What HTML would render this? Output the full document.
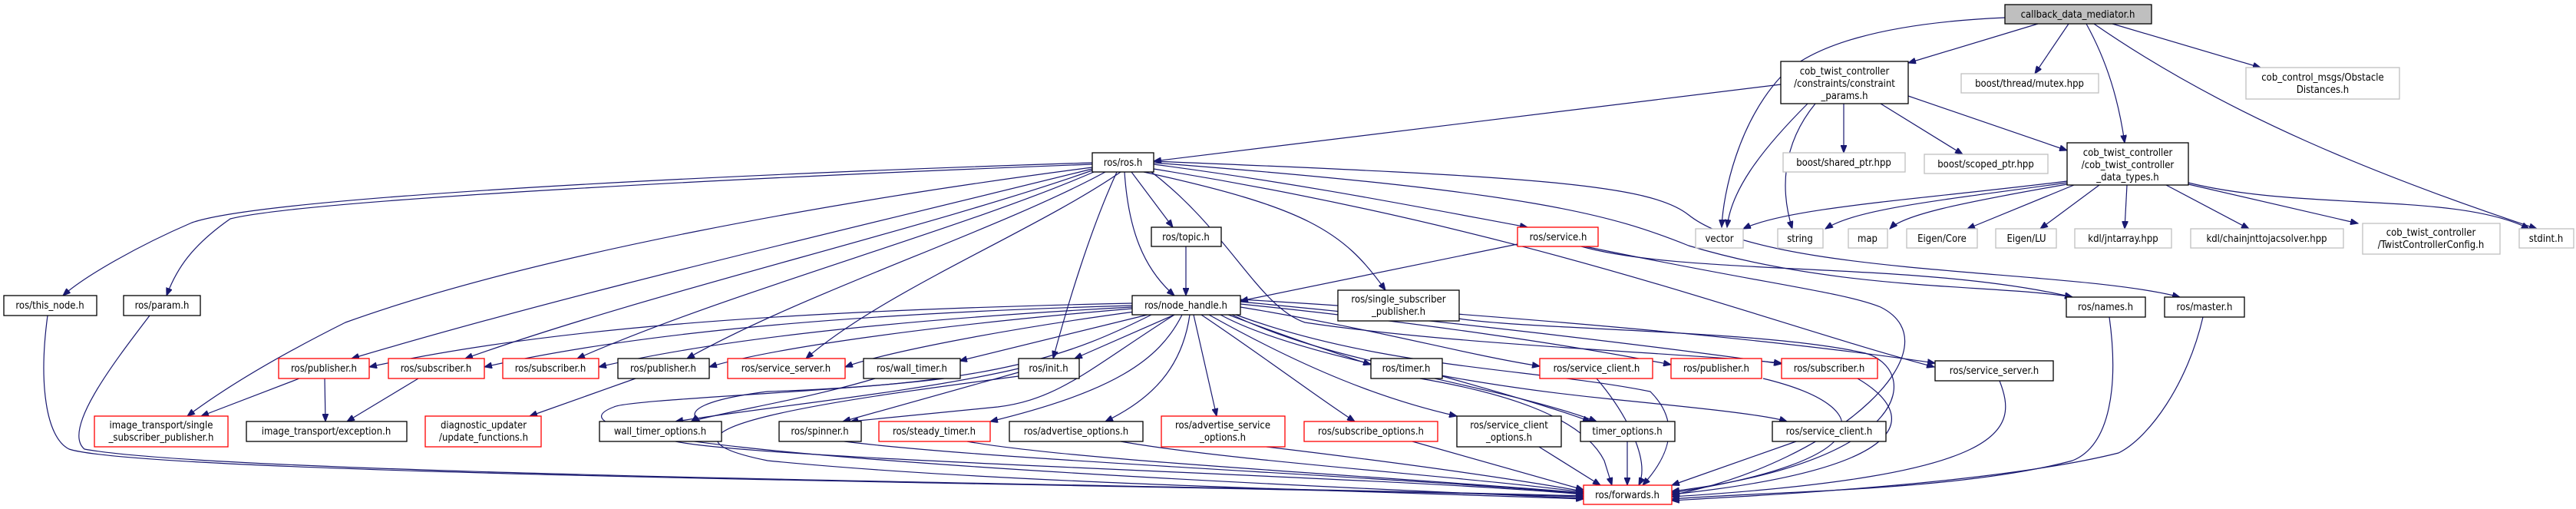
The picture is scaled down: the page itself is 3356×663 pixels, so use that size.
<!DOCTYPE html>
<html><head><meta charset="utf-8"><style>
html,body{margin:0;padding:0;background:#fff;}
svg{display:block;}
text{font-family:"DejaVu Sans Condensed","Liberation Sans",sans-serif;font-size:13px;fill:#000;text-anchor:middle;}
.e{fill:none;stroke:#191970;stroke-width:1.2;marker-end:url(#a);}
.b{fill:#fff;stroke:#000;stroke-width:1.3;}
.r{fill:#fff;stroke:#ff0000;stroke-width:1.3;}
.g{fill:#fff;stroke:#bfbfbf;stroke-width:1.3;}
</style></head><body>
<svg width="3356" height="663" viewBox="0 0 3356 663" xmlns="http://www.w3.org/2000/svg">
<defs><marker id="a" markerUnits="userSpaceOnUse" markerWidth="11" markerHeight="8" refX="10" refY="4" orient="auto"><path d="M0,0 L10,4 L0,8 z" fill="#191970" stroke="#191970"/></marker></defs>

<!-- callback edges -->
<path class="e" d="M2655,31 L2486,82"/>
<path class="e" d="M2695,31 L2651,96"/>
<path class="e" d="M2718,31 C2745,80 2760,130 2768,186"/>
<path class="e" d="M2728,31 C2900,150 3100,230 3305,298"/>
<path class="e" d="M2752,31 L2945,88"/>
<path class="e" d="M2612,23 C2450,30 2360,60 2320,100 C2265,160 2245,250 2243,296"/>
<!-- constraint_params edges -->
<path class="e" d="M2320,110 L1503,210"/>
<path class="e" d="M2355,135 C2290,200 2255,250 2250,296"/>
<path class="e" d="M2365,135 C2320,190 2320,250 2335,298"/>
<path class="e" d="M2402,135 L2402,199"/>
<path class="e" d="M2450,135 L2557,201"/>
<path class="e" d="M2486,125 L2693,196"/>
<!-- data_types edges -->
<path class="e" d="M2693,236 C2500,260 2330,270 2271,298"/>
<path class="e" d="M2693,238 C2520,262 2420,272 2378,298"/>
<path class="e" d="M2693,240 C2550,265 2480,280 2462,298"/>
<path class="e" d="M2702,241 L2563,298"/>
<path class="e" d="M2735,241 L2658,298"/>
<path class="e" d="M2771,241 L2768,298"/>
<path class="e" d="M2822,241 L2930,298"/>
<path class="e" d="M2851,240 L3072,291"/>
<path class="e" d="M2851,238 C3000,275 3200,250 3295,298"/>
<!-- ros.h edges -->
<path class="e" d="M1423,212 C1000,225 350,255 250,290 C180,320 110,360 82,385"/>
<path class="e" d="M1423,214 C1000,230 400,260 300,285 C250,320 230,350 217,385"/>
<path class="e" d="M1423,218 C1100,260 700,330 450,420 C370,460 300,500 244,542"/>
<path class="e" d="M1423,220 C1100,300 750,380 458,467"/>
<path class="e" d="M1423,222 C1200,300 850,380 606,467"/>
<path class="e" d="M1425,224 C1250,300 950,380 752,467"/>
<path class="e" d="M1440,224 C1300,300 1050,380 895,467"/>
<path class="e" d="M1460,224 C1350,300 1150,380 1050,467"/>
<path class="e" d="M1455,224 C1420,300 1390,400 1372,467"/>
<path class="e" d="M1474,224 L1528,296"/>
<path class="e" d="M1465,224 C1470,300 1490,350 1530,385"/>
<path class="e" d="M1490,224 C1700,270 1750,300 1805,378"/>
<path class="e" d="M1503,214 C1700,240 1850,270 1990,296"/>
<path class="e" d="M1503,212 C2000,250 2100,280 2200,320 C2400,380 2600,370 2700,387"/>
<path class="e" d="M1503,210 C2000,230 2150,240 2200,280 C2300,360 2700,350 2840,387"/>
<path class="e" d="M1503,220 C2000,300 2300,420 2520,478"/>
<path class="e" d="M1500,224 C1600,300 1640,400 1700,420 C1900,450 2200,460 2321,473"/>
<!-- topic/service -->
<path class="e" d="M1545,321 L1545,385"/>
<path class="e" d="M1977,318 L1616,392"/>
<path class="e" d="M2060,321 C2200,360 2500,340 2700,387"/>
<path class="e" d="M2065,321 C2300,370 2400,380 2450,400 C2550,450 2400,600 2178,645"/>
<!-- node_handle edges -->
<path class="e" d="M1475,395 C1000,405 700,430 481,478"/>
<path class="e" d="M1475,398 C1050,410 800,440 631,478"/>
<path class="e" d="M1475,400 C1100,420 900,450 780,478"/>
<path class="e" d="M1475,402 C1200,425 1000,455 924,478"/>
<path class="e" d="M1478,406 C1300,430 1150,460 1101,478"/>
<path class="e" d="M1495,410 L1250,470"/>
<path class="e" d="M1530,410 L1400,467"/>
<path class="e" d="M1500,410 C1400,460 1300,500 1000,510 C920,520 890,535 912,549"/>
<path class="e" d="M1530,410 C1420,480 1380,520 1300,530 C1200,540 1150,545 1108,549"/>
<path class="e" d="M1540,410 C1510,470 1450,510 1290,549"/>
<path class="e" d="M1550,410 C1540,480 1500,520 1440,549"/>
<path class="e" d="M1555,410 L1585,542"/>
<path class="e" d="M1565,410 C1640,460 1720,520 1765,549"/>
<path class="e" d="M1575,410 C1700,480 1800,520 1898,542"/>
<path class="e" d="M1600,410 C1680,440 1740,460 1786,475"/>
<path class="e" d="M1616,400 C1800,430 1900,460 2006,477"/>
<path class="e" d="M1616,396 C1850,420 2050,450 2177,475"/>
<path class="e" d="M1616,393 C1900,420 2150,450 2321,474"/>
<path class="e" d="M1616,390 C1950,410 2300,440 2521,473"/>
<path class="e" d="M1590,410 C1700,470 1950,500 2080,549"/>
<path class="e" d="M1605,410 C1750,480 2000,510 2100,520 C2200,530 2300,540 2328,549"/>
<path class="e" d="M1610,410 C1800,480 2000,480 2150,510 C2200,560 2160,610 2140,632"/>
<!-- second level -->
<path class="e" d="M390,493 L262,542"/>
<path class="e" d="M423,493 L424,549"/>
<path class="e" d="M545,493 L452,549"/>
<path class="e" d="M828,493 L690,542"/>
<path class="e" d="M1140,493 C1050,520 950,535 900,549"/>
<path class="e" d="M1327,485 C1200,520 1150,535 1098,549"/>
<path class="e" d="M1327,480 C1200,510 1000,530 880,549"/>
<path class="e" d="M1879,490 C1950,510 2020,530 2072,549"/>
<!-- to forwards -->
<path class="e" d="M62,411 C50,500 60,570 90,585 C200,620 1500,630 2063,647"/>
<path class="e" d="M195,411 C150,470 80,560 110,585 C300,620 1500,630 2063,646"/>
<path class="e" d="M880,575 C1000,600 1800,620 2063,644"/>
<path class="e" d="M1100,575 C1300,600 1800,620 2063,643"/>
<path class="e" d="M1260,575 C1400,600 1800,620 2063,642"/>
<path class="e" d="M1460,575 C1600,600 1900,620 2063,641"/>
<path class="e" d="M1650,582 C1800,600 1950,620 2063,640"/>
<path class="e" d="M1840,575 L2063,638"/>
<path class="e" d="M2005,582 L2085,632"/>
<path class="e" d="M2120,575 L2120,632"/>
<path class="e" d="M2340,575 L2178,632"/>
<path class="e" d="M1900,415 C2000,430 2300,430 2430,460 C2500,480 2500,600 2178,640"/>
<path class="e" d="M2297,493 C2450,530 2450,600 2178,642"/>
<path class="e" d="M2420,493 C2500,540 2500,610 2178,644"/>
<path class="e" d="M2605,496 C2630,560 2620,620 2178,647"/>
<path class="e" d="M2748,413 C2760,500 2750,580 2700,600 C2550,640 2300,640 2178,650"/>
<path class="e" d="M2870,413 C2850,500 2800,570 2760,590 C2600,630 2300,645 2178,652"/>
<path class="e" d="M1230,493 C1100,510 820,520 800,530 C720,560 900,600 2063,649"/>
<path class="e" d="M1850,493 C1950,510 2060,540 2090,600 L2100,632"/>
<path class="e" d="M2080,493 C2120,540 2150,600 2135,632"/>
<path class="e" d="M1327,490 C1100,520 800,560 1000,600 C1300,630 1800,640 2063,650"/>

<!-- nodes -->
<rect x="2612" y="6" width="191" height="25" fill="#bfbfbf" stroke="#000" stroke-width="1.3"/><text x="2707" y="23">callback_data_mediator.h</text>
<rect class="b" x="2320" y="80" width="166" height="55"/><text x="2403" y="97">cob_twist_controller</text><text x="2403" y="113">/constraints/constraint</text><text x="2403" y="129">_params.h</text>
<rect class="g" x="2555" y="96" width="179" height="25"/><text x="2644" y="113">boost/thread/mutex.hpp</text>
<rect class="g" x="2926" y="88" width="200" height="41"/><text x="3026" y="105">cob_control_msgs/Obstacle</text><text x="3026" y="121">Distances.h</text>
<rect class="b" x="2693" y="186" width="158" height="55"/><text x="2772" y="203">cob_twist_controller</text><text x="2772" y="219">/cob_twist_controller</text><text x="2772" y="235">_data_types.h</text>
<rect class="b" x="1423" y="199" width="80" height="25"/><text x="1463" y="216">ros/ros.h</text>
<rect class="g" x="2323" y="199" width="159" height="25"/><text x="2402" y="216">boost/shared_ptr.hpp</text>
<rect class="g" x="2507" y="201" width="161" height="25"/><text x="2587" y="218">boost/scoped_ptr.hpp</text>
<rect class="b" x="1500" y="296" width="91" height="25"/><text x="1545" y="313">ros/topic.h</text>
<rect class="r" x="1977" y="296" width="105" height="25"/><text x="2030" y="313">ros/service.h</text>
<rect class="g" x="2209" y="298" width="62" height="25"/><text x="2240" y="315">vector</text>
<rect class="g" x="2316" y="298" width="59" height="25"/><text x="2345" y="315">string</text>
<rect class="g" x="2408" y="298" width="51" height="25"/><text x="2433" y="315">map</text>
<rect class="g" x="2484" y="298" width="92" height="25"/><text x="2530" y="315">Eigen/Core</text>
<rect class="g" x="2600" y="298" width="79" height="25"/><text x="2640" y="315">Eigen/LU</text>
<rect class="g" x="2703" y="298" width="126" height="25"/><text x="2766" y="315">kdl/jntarray.hpp</text>
<rect class="g" x="2854" y="298" width="199" height="25"/><text x="2953" y="315">kdl/chainjnttojacsolver.hpp</text>
<rect class="g" x="3078" y="291" width="179" height="40"/><text x="3167" y="307">cob_twist_controller</text><text x="3167" y="323">/TwistControllerConfig.h</text>
<rect class="g" x="3282" y="298" width="71" height="25"/><text x="3317" y="315">stdint.h</text>
<rect class="b" x="5" y="385" width="121" height="26"/><text x="65" y="402">ros/this_node.h</text>
<rect class="b" x="161" y="385" width="100" height="26"/><text x="211" y="402">ros/param.h</text>
<rect class="b" x="1475" y="385" width="141" height="25"/><text x="1545" y="402">ros/node_handle.h</text>
<rect class="b" x="1743" y="378" width="158" height="40"/><text x="1822" y="394">ros/single_subscriber</text><text x="1822" y="410">_publisher.h</text>
<rect class="b" x="2692" y="387" width="103" height="26"/><text x="2743" y="404">ros/names.h</text>
<rect class="b" x="2820" y="387" width="104" height="26"/><text x="2872" y="404">ros/master.h</text>
<rect class="r" x="363" y="467" width="118" height="26"/><text x="422" y="484">ros/publisher.h</text>
<rect class="r" x="506" y="467" width="125" height="26"/><text x="568" y="484">ros/subscriber.h</text>
<rect class="r" x="655" y="467" width="125" height="26"/><text x="717" y="484">ros/subscriber.h</text>
<rect class="b" x="805" y="467" width="119" height="26"/><text x="864" y="484">ros/publisher.h</text>
<rect class="r" x="948" y="467" width="153" height="26"/><text x="1024" y="484">ros/service_server.h</text>
<rect class="b" x="1125" y="467" width="126" height="26"/><text x="1188" y="484">ros/wall_timer.h</text>
<rect class="b" x="1327" y="467" width="79" height="26"/><text x="1366" y="484">ros/init.h</text>
<rect class="b" x="1786" y="467" width="93" height="26"/><text x="1832" y="484">ros/timer.h</text>
<rect class="r" x="2006" y="467" width="147" height="26"/><text x="2080" y="484">ros/service_client.h</text>
<rect class="r" x="2177" y="467" width="118" height="26"/><text x="2236" y="484">ros/publisher.h</text>
<rect class="r" x="2321" y="467" width="125" height="26"/><text x="2383" y="484">ros/subscriber.h</text>
<rect class="b" x="2521" y="470" width="154" height="26"/><text x="2598" y="487">ros/service_server.h</text>
<rect class="r" x="123" y="542" width="174" height="40"/><text x="210" y="558">image_transport/single</text><text x="210" y="574">_subscriber_publisher.h</text>
<rect class="b" x="321" y="549" width="209" height="26"/><text x="425" y="566">image_transport/exception.h</text>
<rect class="r" x="554" y="542" width="151" height="40"/><text x="630" y="558">diagnostic_updater</text><text x="630" y="574">/update_functions.h</text>
<rect class="b" x="781" y="549" width="159" height="26"/><text x="860" y="566">wall_timer_options.h</text>
<rect class="b" x="1015" y="549" width="107" height="26"/><text x="1068" y="566">ros/spinner.h</text>
<rect class="r" x="1145" y="549" width="145" height="26"/><text x="1217" y="566">ros/steady_timer.h</text>
<rect class="b" x="1315" y="549" width="174" height="26"/><text x="1402" y="566">ros/advertise_options.h</text>
<rect class="r" x="1513" y="542" width="161" height="40"/><text x="1593" y="558">ros/advertise_service</text><text x="1593" y="574">_options.h</text>
<rect class="r" x="1699" y="549" width="174" height="26"/><text x="1786" y="566">ros/subscribe_options.h</text>
<rect class="b" x="1898" y="542" width="136" height="40"/><text x="1966" y="558">ros/service_client</text><text x="1966" y="574">_options.h</text>
<rect class="b" x="2059" y="549" width="123" height="26"/><text x="2120" y="566">timer_options.h</text>
<rect class="b" x="2309" y="549" width="148" height="26"/><text x="2383" y="566">ros/service_client.h</text>
<rect class="r" x="2063" y="632" width="115" height="25"/><text x="2120" y="649">ros/forwards.h</text>
</svg>
</body></html>
